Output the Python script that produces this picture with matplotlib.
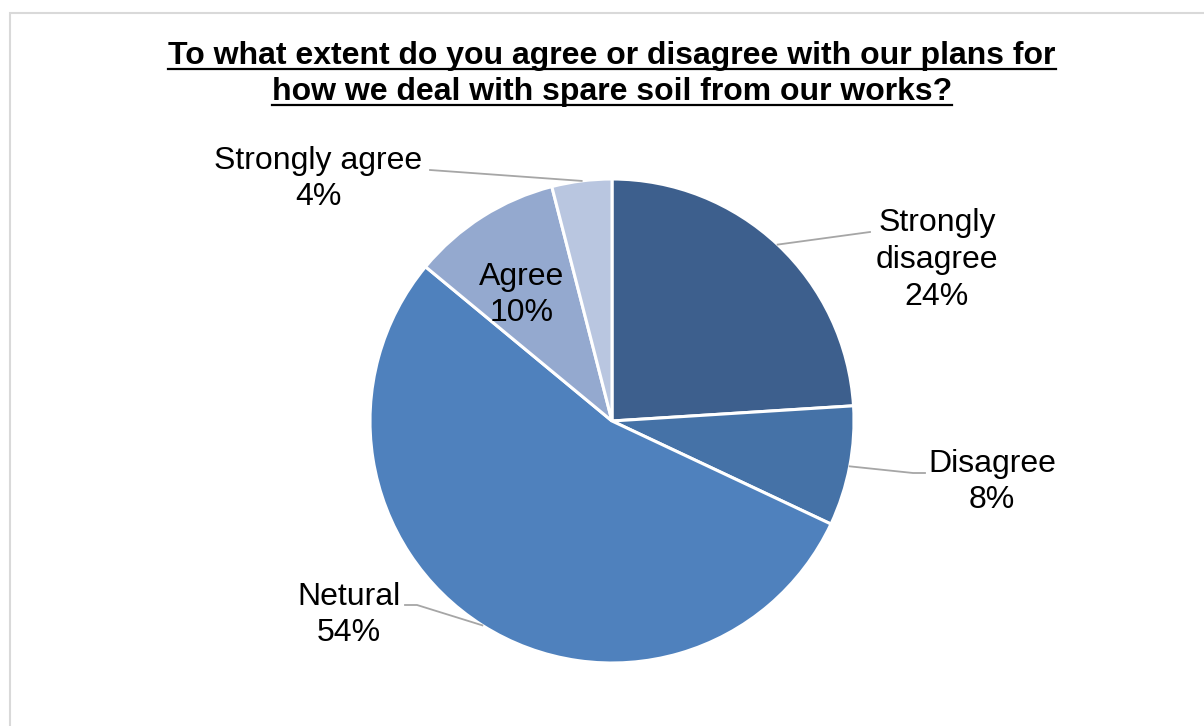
import numpy as np
import matplotlib.pyplot as plt
from matplotlib.patches import Rectangle
from matplotlib.lines import Line2D

plt.rcParams['font.family'] = ['Liberation Sans', 'DejaVu Sans']

title_lines = ["To what extent do you agree or disagree with our plans for",
               "how we deal with spare soil from our works?"]
categories = ["Strongly\ndisagree", "Disagree", "Netural", "Agree", "Strongly agree"]
shares = [24, 8, 54, 10, 4]
colors = ['#3D5F8D', '#4572A7', '#4F81BD', '#94A9CF', '#B9C6E0']

W, H = 1204, 726
fig = plt.figure(figsize=(W / 100, H / 100), dpi=100)

# light grey chart border
fig.patches.append(Rectangle((10 / W, -0.01), 1.2, (H - 13) / H + 0.01, transform=fig.transFigure,
                             fill=False, edgecolor='#D9D9D9', linewidth=1.5))

# pie centre and radius in pixels
cx, cy, r = 612, 421, 242
ax = fig.add_axes([(cx - r) / W, (H - cy - r) / H, 2 * r / W, 2 * r / H])
wedges, _ = ax.pie(shares, colors=colors, startangle=90, counterclock=False, radius=1,
                   wedgeprops=dict(edgecolor='white', linewidth=2.2))
ax.set_xlim(-1, 1)
ax.set_ylim(-1, 1)
ax.set_aspect('equal')
ax.axis('off')


def to_data(px, py):
    return (px - cx) / r, (cy - py) / r


# label text centres and leader line elbows, in pixels
label_pos = [(937, 260), (992, 482), (349, 615), (522, 295), (318, 179)]
elbows = [[(870, 232)], [(913, 473), (925, 473)], [(417, 605), (405, 605)], None, [(430, 170)]]

for w, name, pct, pos, elbow in zip(wedges, categories, shares, label_pos, elbows):
    ax.text(*to_data(*pos), f"{name}\n{pct}%", ha='center', va='center', fontsize=23,
            linespacing=1.3, color='black')
    if elbow is None:
        continue
    mid = np.deg2rad((w.theta1 + w.theta2) / 2)
    xs = [np.cos(mid)] + [to_data(*p)[0] for p in elbow]
    ys = [np.sin(mid)] + [to_data(*p)[1] for p in elbow]
    ax.add_line(Line2D(xs, ys, color='#A6A6A6', linewidth=1.3, clip_on=False))

# bold, underlined two-line title (baselines in pixels)
title_base = [64, 100]
renderer = fig.canvas.get_renderer()
for line, py in zip(title_lines, title_base):
    t = fig.text(cx / W, 1 - py / H, line, ha='center', va='baseline', fontsize=23,
                 fontweight='bold')
    bb = t.get_window_extent(renderer)
    uy = 1 - (py + 5) / H
    fig.add_artist(Line2D([bb.x0 / W, bb.x1 / W], [uy, uy], transform=fig.transFigure,
                          color='black', linewidth=1.6))

fig.savefig('out.png', dpi=100)
